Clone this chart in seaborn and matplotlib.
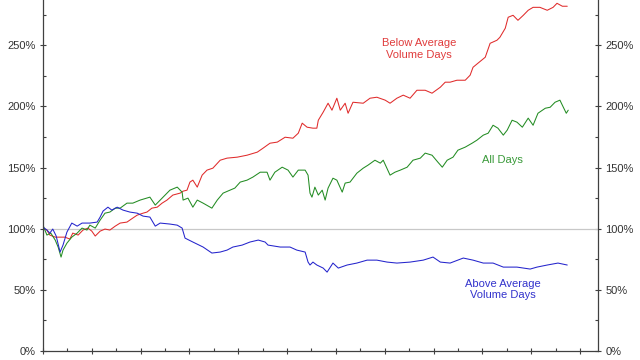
import numpy as np
import pandas as pd
import matplotlib
matplotlib.use("Agg")
import matplotlib.pyplot as plt
from matplotlib.ticker import MultipleLocator, FuncFormatter
import seaborn as sns

sns.set_style("white")
plt.rcParams['font.family'] = ['Liberation Sans', 'DejaVu Sans']

# growth of 1 unit, in % of start, x = years since start
below_years = [0, 0.08, 0.14, 0.25, 0.45, 0.55, 0.61, 0.72, 0.82, 0.92, 1.00, 1.07, 1.17, 1.27,
               1.37, 1.48, 1.58, 1.72, 1.84, 1.93, 2.05, 2.13, 2.23, 2.34, 2.44, 2.54, 2.66, 2.81,
               2.87, 2.95, 3.01, 3.07, 3.16, 3.26, 3.36, 3.48, 3.63, 3.77, 3.98, 4.18, 4.39, 4.51,
               4.65, 4.80, 4.96, 5.12, 5.23, 5.31, 5.41, 5.53, 5.61, 5.64, 5.74, 5.84, 5.92, 6.02,
               6.09, 6.19, 6.25, 6.35, 6.56, 6.70, 6.84, 7.01, 7.11, 7.25, 7.38, 7.52, 7.66, 7.83,
               7.97, 8.14, 8.24, 8.34, 8.48, 8.65, 8.75, 8.81, 8.91, 9.06, 9.16, 9.30, 9.36, 9.47,
               9.53, 9.63, 9.73, 9.84, 9.94, 10.04, 10.18, 10.33, 10.45, 10.53, 10.64, 10.74]
below_pct = [100.5, 98.9, 94.8, 93.1, 93.1, 91.5, 96.4, 94.8, 98.9, 100.5, 98.0, 94.0, 98.0, 99.7,
             98.9, 102.1, 104.6, 105.4, 108.7, 111.1, 112.7, 113.6, 116.8, 117.6, 120.9, 123.4, 127.5, 129.1,
             130.7, 131.5, 138.1, 139.7, 134.0, 143.8, 147.9, 149.5, 156.0, 157.7, 158.5, 160.1, 162.6, 165.9,
             169.9, 170.8, 174.8, 174.0, 178.1, 186.3, 183.0, 182.2, 182.2, 188.7, 195.3, 202.6, 196.9, 206.7,
             196.9, 202.6, 194.4, 203.4, 202.6, 206.7, 207.5, 205.1, 202.6, 206.7, 209.2, 206.7, 213.2, 213.2,
             210.8, 215.7, 219.8, 219.8, 221.4, 221.4, 225.5, 232.0, 235.3, 240.2, 251.6, 254.1, 256.5, 263.9,
             272.9, 274.5, 270.4, 274.5, 278.6, 281.0, 281.0, 278.6, 281.0, 284.3, 281.9, 281.9]

all_years = [0, 0.08, 0.16, 0.25, 0.31, 0.37, 0.41, 0.49, 0.59, 0.70, 0.80, 0.90, 0.96, 1.07,
             1.17, 1.27, 1.37, 1.48, 1.58, 1.72, 1.84, 1.99, 2.19, 2.30, 2.44, 2.60, 2.75, 2.85,
             2.87, 2.97, 3.07, 3.16, 3.28, 3.46, 3.57, 3.69, 3.83, 3.93, 4.04, 4.18, 4.30, 4.45,
             4.59, 4.65, 4.75, 4.90, 5.02, 5.12, 5.23, 5.37, 5.43, 5.47, 5.51, 5.57, 5.64, 5.72,
             5.78, 5.84, 5.94, 6.02, 6.13, 6.19, 6.29, 6.43, 6.56, 6.66, 6.80, 6.91, 6.97, 7.11,
             7.21, 7.32, 7.46, 7.58, 7.73, 7.83, 7.97, 8.09, 8.18, 8.28, 8.40, 8.50, 8.65, 8.79,
             8.89, 9.02, 9.12, 9.22, 9.32, 9.43, 9.51, 9.61, 9.71, 9.82, 9.94, 10.04, 10.14, 10.29,
             10.39, 10.49, 10.59, 10.66, 10.72, 10.76]
all_pct = [102.9, 94.8, 96.4, 90.7, 85.0, 76.8, 82.5, 88.2, 93.1, 96.4, 100.5, 98.9, 102.9, 100.5,
           107.0, 112.7, 113.6, 116.8, 116.8, 120.9, 120.9, 123.4, 125.8, 119.3, 125.0, 131.5, 134.0, 129.9,
           123.4, 125.0, 117.6, 123.4, 120.9, 116.8, 123.4, 129.1, 131.5, 133.2, 138.1, 139.7, 142.2, 146.2,
           146.2, 139.7, 146.2, 150.3, 147.9, 142.2, 147.9, 147.9, 143.8, 129.1, 125.8, 134.0, 127.5, 131.5,
           123.4, 133.2, 141.3, 139.7, 129.9, 137.3, 138.1, 145.4, 149.5, 152.0, 156.0, 153.6, 156.0, 143.8,
           146.2, 147.9, 150.3, 156.0, 157.7, 161.8, 160.1, 154.4, 150.3, 156.0, 158.5, 164.2, 166.7, 169.9,
           172.4, 176.5, 178.1, 184.6, 182.2, 176.5, 180.6, 188.7, 187.1, 183.0, 190.4, 184.6, 194.4, 198.5,
           199.3, 203.4, 205.1, 199.3, 194.4, 196.9]

above_years = [0, 0.08, 0.14, 0.20, 0.27, 0.35, 0.41, 0.49, 0.59, 0.70, 0.80, 0.96, 1.11, 1.17,
               1.23, 1.33, 1.41, 1.52, 1.64, 1.78, 1.93, 2.05, 2.19, 2.30, 2.40, 2.60, 2.75, 2.85,
               2.91, 3.07, 3.28, 3.46, 3.63, 3.77, 3.89, 4.08, 4.24, 4.41, 4.55, 4.61, 4.86, 5.06,
               5.20, 5.37, 5.43, 5.47, 5.53, 5.61, 5.74, 5.82, 5.94, 6.05, 6.23, 6.43, 6.64, 6.84,
               7.05, 7.25, 7.52, 7.79, 7.99, 8.14, 8.34, 8.61, 8.81, 9.02, 9.22, 9.43, 9.71, 9.98,
               10.12, 10.33, 10.55, 10.74]
above_pct = [101.3, 98.9, 96.4, 99.7, 94.0, 80.9, 86.6, 97.2, 104.6, 102.1, 104.6, 104.6, 105.4, 109.5,
             114.4, 117.6, 115.2, 117.6, 115.2, 113.6, 112.7, 110.3, 109.5, 102.1, 104.6, 103.8, 102.9, 100.5,
             92.3, 89.1, 85.0, 80.1, 80.9, 82.5, 85.0, 86.6, 89.1, 90.7, 89.1, 86.6, 85.0, 85.0,
             82.5, 80.9, 72.7, 70.3, 72.7, 70.3, 67.8, 64.5, 71.9, 67.8, 70.3, 71.9, 74.3, 74.3,
             72.7, 71.9, 72.7, 74.3, 76.8, 72.7, 71.9, 76.0, 74.3, 71.9, 71.9, 68.6, 68.6, 67.0,
             68.6, 70.3, 71.9, 70.3]

red = "#e02b2b"
green = "#238c23"
blue = "#2424cc"

fig = plt.figure(figsize=(6.4, 3.6), dpi=100)
ax = fig.add_axes([43 / 640, 9 / 360, 555 / 640, 351 / 360])

ax.axhline(100, color="#c8c8c8", lw=0.9, zorder=1)

sns.lineplot(x=below_years, y=below_pct, color=red, lw=0.75, ax=ax, sort=False)
sns.lineplot(x=all_years, y=all_pct, color=green, lw=0.75, ax=ax, sort=False)
sns.lineplot(x=above_years, y=above_pct, color=blue, lw=0.75, ax=ax, sort=False)

ax.text(7.70, 247, "Below Average\nVolume Days", color="#e03c3c", fontsize=8,
        ha="center", va="center", linespacing=1.15)
ax.text(9.41, 156, "All Days", color="#3a9a3a", fontsize=8, ha="center", va="center")
ax.text(9.43, 50, "Above Average\nVolume Days", color="#3333cc", fontsize=8,
        ha="center", va="center", linespacing=1.15)

ax.set_xlim(0, 11.37)
ax.set_ylim(0, 287)
ax.yaxis.set_major_locator(MultipleLocator(50))
ax.yaxis.set_minor_locator(MultipleLocator(25))
ax.yaxis.set_major_formatter(FuncFormatter(lambda v, p: f"{v:.0f}%"))
ax.xaxis.set_major_locator(MultipleLocator(1))
ax.xaxis.set_minor_locator(MultipleLocator(0.5))
ax.set_xlabel("")
ax.set_ylabel("")

for side in ["left", "right", "bottom"]:
    ax.spines[side].set_visible(True)
    ax.spines[side].set_color("#404040")
    ax.spines[side].set_linewidth(0.9)
ax.spines["top"].set_visible(False)

ax.tick_params(axis="y", which="major", direction="inout", length=4.5, width=0.8,
               color="#404040", left=True, right=True, labelleft=True, labelright=True,
               labelsize=8, labelcolor="#333333", pad=3)
ax.tick_params(axis="y", which="minor", direction="in", length=2.2, width=0.8,
               color="#404040", left=True, right=True)
ax.tick_params(axis="x", which="major", direction="inout", length=4.5, width=0.8,
               color="#404040", bottom=True, labelbottom=False)
ax.tick_params(axis="x", which="minor", direction="in", length=2.2, width=0.8,
               color="#404040", bottom=True)

fig.savefig("out.png", dpi=100)
